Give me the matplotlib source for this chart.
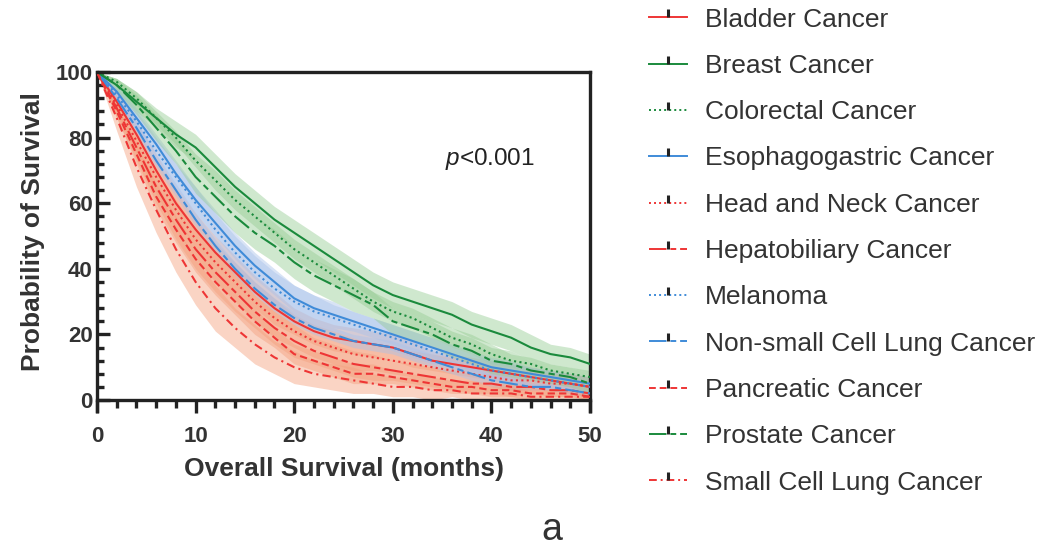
import matplotlib
matplotlib.use("Agg")
import matplotlib.pyplot as plt
from matplotlib.lines import Line2D
from matplotlib.path import Path
import numpy as np

plt.rcParams['font.family'] = ['Liberation Sans', 'DejaVu Sans']
plt.rcParams['mathtext.fontset'] = 'custom'
plt.rcParams['mathtext.it'] = 'Liberation Sans:italic'
plt.rcParams['mathtext.rm'] = 'Liberation Sans'

# ---------------- data ----------------
months = [0, 2, 4, 6, 8, 10, 12, 14, 16, 18, 20, 22, 24, 26, 28, 30, 32, 34, 36, 38, 40, 42, 44, 46, 48, 50]

cancers = ["Bladder Cancer", "Breast Cancer", "Colorectal Cancer", "Esophagogastric Cancer",
           "Head and Neck Cancer", "Hepatobiliary Cancer", "Melanoma",
           "Non-small Cell Lung Cancer", "Pancreatic Cancer", "Prostate Cancer",
           "Small Cell Lung Cancer"]

bladder = [100, 91, 81, 70, 60, 52, 45, 39, 33, 28, 24, 21, 19, 18, 17, 16, 14, 12, 11, 10, 9, 8, 7, 6, 5, 4]
breast = [100, 96, 91, 86, 81, 77, 71, 65, 60, 55, 51, 47, 43, 39, 35, 32, 30, 28, 26, 23, 21, 19, 16, 14, 13, 11]
colorectal = [100, 97, 92, 86, 80, 73, 67, 61, 56, 51, 46, 42, 38, 34, 30, 27, 25, 22, 19, 17, 14, 12, 11, 9, 8, 7]
esophagogastric = [100, 94, 86, 78, 69, 61, 54, 47, 41, 36, 31, 28, 26, 24, 22, 20, 18, 16, 14, 12, 10, 9, 8, 7, 6, 5]
head_neck = [100, 90, 79, 68, 58, 49, 42, 36, 30, 25, 21, 18, 16, 14, 13, 12, 11, 10, 9, 8, 7, 6, 6, 5, 5, 4]
hepatobiliary = [100, 89, 77, 65, 55, 46, 39, 33, 27, 22, 18, 15, 13, 11, 10, 9, 8, 7, 6, 5, 5, 4, 4, 3, 3, 2]
melanoma = [100, 93, 85, 76, 68, 60, 52, 45, 39, 34, 30, 27, 25, 23, 21, 19, 17, 15, 13, 11, 9, 8, 7, 6, 5, 4]
nsclc = [100, 92, 83, 73, 64, 55, 47, 40, 34, 29, 25, 22, 20, 18, 17, 16, 14, 12, 10, 8, 6, 5, 4, 4, 3, 2]
pancreatic = [100, 88, 75, 62, 52, 43, 36, 30, 24, 19, 14, 12, 10, 8, 8, 7, 6, 5, 4, 4, 3, 3, 2, 2, 2, 1]
prostate = [100, 96, 90, 83, 76, 68, 62, 56, 51, 47, 42, 38, 35, 32, 29, 24, 22, 20, 17, 15, 12, 11, 9, 8, 7, 5]
sclc = [100, 86, 71, 58, 46, 36, 28, 22, 17, 13, 10, 8, 7, 6, 5, 4, 4, 3, 3, 2, 2, 2, 1, 1, 1, 1]

# 95% CI half-widths (percentage points)
ci_bladder = [0, 3, 4, 5, 5, 5, 5, 5, 5, 5, 4, 4, 4, 4, 4, 4, 4, 3, 3, 3, 3, 3, 3, 3, 3, 3]
ci_breast = [0, 2, 3, 3, 4, 4, 4, 4, 4, 4, 4, 4, 4, 4, 4, 4, 4, 4, 4, 4, 4, 4, 4, 3, 3, 3]
ci_colorectal = [0, 1, 2, 2, 2, 2, 3, 3, 3, 3, 3, 3, 3, 3, 3, 3, 3, 3, 3, 3, 3, 2, 2, 2, 2, 2]
ci_esophagogastric = [0, 2, 3, 3, 4, 4, 4, 4, 4, 4, 4, 4, 4, 3, 3, 3, 3, 3, 3, 3, 3, 3, 2, 2, 2, 2]
ci_head_neck = [0, 3, 4, 5, 6, 6, 6, 6, 6, 6, 5, 5, 5, 5, 4, 4, 4, 4, 4, 4, 3, 3, 3, 3, 3, 3]
ci_hepatobiliary = [0, 3, 4, 5, 6, 6, 6, 6, 5, 5, 5, 4, 4, 4, 4, 3, 3, 3, 3, 3, 3, 3, 2, 2, 2, 2]
ci_melanoma = [0, 2, 3, 4, 4, 5, 5, 5, 5, 5, 5, 5, 4, 4, 4, 4, 4, 4, 3, 3, 3, 3, 3, 3, 3, 3]
ci_nsclc = [0, 1, 2, 2, 2, 2, 2, 2, 2, 2, 2, 2, 2, 2, 2, 2, 2, 2, 2, 2, 2, 2, 1, 1, 1, 1]
ci_pancreatic = [0, 2, 3, 4, 4, 4, 4, 4, 4, 3, 3, 3, 3, 3, 3, 2, 2, 2, 2, 2, 2, 2, 2, 1, 1, 1]
ci_prostate = [0, 2, 3, 4, 4, 5, 5, 5, 5, 5, 5, 5, 5, 5, 4, 4, 4, 4, 4, 4, 4, 4, 3, 3, 3, 3]
ci_sclc = [0, 4, 6, 7, 7, 7, 7, 6, 6, 5, 5, 4, 4, 4, 3, 3, 3, 3, 2, 2, 2, 2, 2, 1, 1, 1]

p_text = r"$\it{p}$<0.001"
panel_label = "a"

# ---------------- styling ----------------
RED = "#EE3535"
GREEN = "#1A8A3C"
BLUE = "#3F8BD8"
BAND = {RED: "#F4A07E", GREEN: "#96CC94", BLUE: "#A9C2EA"}
DOT = (0, (1, 1.6))
LDASH = (0, (9, 2, 3, 2))
DASH = (0, (3.5, 2))
SDASH = (0, (4, 2, 1, 2))

series = [
    (bladder, ci_bladder, RED, "-"),
    (breast, ci_breast, GREEN, "-"),
    (colorectal, ci_colorectal, GREEN, DOT),
    (esophagogastric, ci_esophagogastric, BLUE, "-"),
    (head_neck, ci_head_neck, RED, DOT),
    (hepatobiliary, ci_hepatobiliary, RED, LDASH),
    (melanoma, ci_melanoma, BLUE, DOT),
    (nsclc, ci_nsclc, BLUE, LDASH),
    (pancreatic, ci_pancreatic, RED, DASH),
    (prostate, ci_prostate, GREEN, LDASH),
    (sclc, ci_sclc, RED, SDASH),
]

fig = plt.figure(figsize=(10.39, 5.54), dpi=100)
ax = fig.add_axes([97 / 1039, 1 - 411.5 / 554, (590 - 97) / 1039, (411.5 - 72) / 554])

t = np.array(months, dtype=float)
for vals, ci, col, ls in series:
    v = np.array(vals, dtype=float)
    c = np.array(ci, dtype=float)
    ax.fill_between(t, np.clip(v - c, 0, 100), np.clip(v + c, 0, 100),
                    color=BAND[col], alpha=0.45, linewidth=0, zorder=1)
for vals, ci, col, ls in series:
    ax.plot(t, vals, color=col, linestyle=ls, linewidth=1.5, zorder=3)

ax.set_xlim(0, 50)
ax.set_ylim(-3.5, 100)

ax.spines['bottom'].set_position(('data', 0))
for s in ['left', 'right', 'top', 'bottom']:
    ax.spines[s].set_linewidth(2.4)
    ax.spines[s].set_color('#222222')
ax.spines['top'].set_zorder(5)

ax.set_xticks(range(0, 51, 10))
ax.set_xticks(range(0, 51, 2), minor=True)
ax.set_yticks(range(0, 101, 20))
ax.set_yticks(range(0, 101, 4), minor=True)
ax.tick_params(axis='x', which='major', direction='out', length=9, width=2.4, color='#222222',
               labelsize=16, pad=10)
ax.tick_params(axis='x', which='minor', direction='out', length=5.5, width=2.4, color='#222222')
ax.tick_params(axis='y', which='major', direction='in', length=9, width=2.4, color='#222222',
               labelsize=16, pad=3)
ax.tick_params(axis='y', which='minor', direction='in', length=5, width=2.4, color='#222222')
for lab in ax.get_xticklabels() + ax.get_yticklabels():
    lab.set_fontweight('bold')
    lab.set_color('#333333')

ax.set_xlabel("Overall Survival (months)", fontsize=19, fontweight='bold', color='#333333', labelpad=7)
ax.set_ylabel("Probability of Survival", fontsize=19, fontweight='bold', color='#333333')
ax.yaxis.set_label_coords(-0.106, 0.53)

ax.text(0.705, 0.745, p_text, transform=ax.transAxes, fontsize=17.5, color='#222222', va='center')

handles = []
for vals, ci, col, ls in series:
    handles.append(Line2D([0], [0], color=col, linestyle=ls, linewidth=1.4,
                          marker=Path([(0, 0), (0, 1)]), markevery=[1],
                          markersize=11, markeredgewidth=2.2, markeredgecolor='#222222'))
leg = fig.legend(handles, cancers, loc='upper left', bbox_to_anchor=(638 / 1039, 1.0 + 3 / 554),
                 frameon=False, fontsize=19, handlelength=1.45, handletextpad=0.7,
                 labelspacing=0.845, borderaxespad=0.0)
for txt in leg.get_texts():
    txt.set_color('#333333')

fig.text(552 / 1039, 1 - 530 / 554, panel_label, fontsize=27, color='#333333', ha='center', va='center')

fig.savefig("out.png", dpi=100)
